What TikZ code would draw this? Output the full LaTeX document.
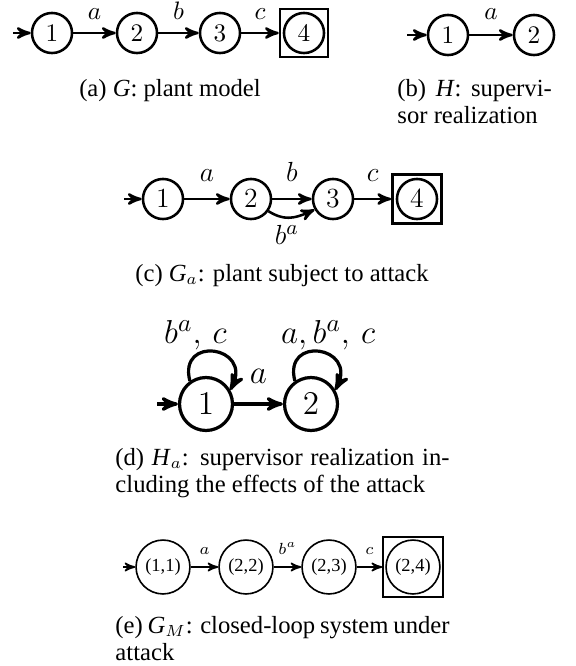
\documentclass[tikz,border=0pt]{standalone}
\usepackage{fontspec}
\setmainfont{Liberation Serif}
\usetikzlibrary{arrows,positioning}
\tikzset{
    st/.style={circle, draw, inner sep=0pt, minimum size=17.4pt, line width=1.1pt},
    acc/.style={rectangle, draw, inner sep=0pt, minimum size=20.8pt, line width=1.1pt},
    tr/.style={->, >=stealth', line width=1.1pt},
    lbl/.style={inner sep=1pt},
    captext/.style={inner sep=0pt, font=\fontsize{10.7}{12}\selectfont}
}

\begin{document}
\begin{tikzpicture}[x=0.434pt,y=-0.434pt]
\useasboundingbox (0,0) rectangle (576,666);
% (a) plant
\begin{scope}[font=\fontsize{11}{13}\selectfont]
\coordinate (a0) at (13,33);
\node[st] (a1) at ( 52,33) {$1$};
\node[st] (a2) at (137,33) {$2$};
\node[st] (a3) at (220,33) {$3$};
\node[st] (a4) at (304,33) {$4$};
\node[acc] (a4m) at (a4) {};
\draw[tr] (a0) -- (a1);
\draw[tr] (a1) -- node[lbl,above=4.5pt] (la) {$a$} (a2);
\draw[tr] (a2) -- node[lbl,above=4.5pt] (lb) {$b$} (a3);
\draw[tr] (a3) -- node[lbl,above=4.5pt] (lc) {$c$} (a4m);
\end{scope}
\node[captext,anchor=base] (capa) at (170,96) {(a) \textit{G}: plant model};
% (b) supervisor
\begin{scope}[font=\fontsize{11}{13}\selectfont]
\coordinate (b0) at (407,35);
\node[st] (b1) at (448,35) {$1$};
\node[st] (b2) at (534,35) {$2$};
\draw[tr] (b0) -- (b1);
\draw[tr] (b1) -- node[lbl,above=5pt] (lba) {$a$} (b2);
\end{scope}
\node[captext,anchor=base west,text width=67pt,align=justify] (capb) at (397,96)
    {(b) \textit{H}: supervi-\linebreak sor realization};
% (c) plant under attack
\begin{scope}[font=\fontsize{12.5}{15}\selectfont]
\coordinate (c0) at (124,199);
\node[st] (c1) at (163,199) {$1$};
\node[st] (c2) at (251,199) {$2$};
\node[st] (c3) at (333,199) {$3$};
\node[st] (c4) at (417,199) {$4$};
\node[acc,minimum size=21.3pt] (c4m) at (c4) {};
\draw[tr] (c0) -- (c1);
\draw[tr] (c1) -- node[lbl,above=6pt] (lca) {$a$} (c2);
\draw[tr] (c2) -- node[lbl,above=6pt] (lcb) {$b$} (c3);
\draw[tr] (c2.-35) .. controls +(15,9) and +(-22,10) .. (c3.-150)
    node[lbl,pos=0.45,below=2pt] (lcba) {$b^a$};
\draw[tr] (c3) -- node[lbl,above=6pt] (lcc) {$c$} (c4m);
\end{scope}
\node[captext,anchor=base] (capc) at (282,281) {(c) \textit{G}$_a$: plant subject to attack};
% (d) supervisor under attack
\begin{scope}[font=\fontsize{15}{18}\selectfont]
\tikzset{st/.append style={minimum size=23pt, line width=1.4pt},
         tr/.append style={line width=1.4pt}}
\coordinate (d0) at (157,404);
\node[st] (d1) at (206,404) {$1$};
\node[st] (d2) at (311,404) {$2$};
\draw[tr] (d0) -- (d1);
\draw[tr] (d1) -- node[lbl,above=7pt] (lda) {$a$} (d2);
\draw[tr] (d1.125) .. controls +(-12,-46) and +(22,-44) .. (d1.30)
    node[lbl,pos=0.5,above=0pt,inner sep=0pt,xshift=-8pt] (ld1) {$b^a,\,c$};
\draw[tr] (d2.125) .. controls +(-12,-46) and +(22,-44) .. (d2.30)
    node[lbl,pos=0.5,above=0pt,inner sep=0pt,xshift=4pt] (ld2) {$a,b^a,\,c$};
\end{scope}
\node[captext,anchor=base west,text width=145pt,align=justify] (capd) at (115,465)
    {(d) \textit{H}$_a$: supervisor realization in-\linebreak cluding the effects of the attack};
% (e) closed loop
\begin{scope}[font=\fontsize{8}{10}\selectfont]
\tikzset{st/.append style={minimum size=23.4pt, line width=0.7pt},
         acc/.append style={minimum size=26pt, line width=0.8pt},
         tr/.append style={line width=0.7pt}}
\coordinate (e0) at (123,567);
\node[st] (e1) at (163,567) {(1,1)};
\node[st] (e2) at (246,567) {(2,2)};
\node[st] (e3) at (329,567) {(2,3)};
\node[st] (e4) at (413,567) {(2,4)};
\node[acc] (e4m) at (e4) {};
\draw[tr] (e0) -- (e1);
\draw[tr] (e1) -- node[lbl,above=4pt,font=\fontsize{7}{8}\selectfont] (lea) {$a$} (e2);
\draw[tr] (e2) -- node[lbl,above=4pt,font=\fontsize{7}{8}\selectfont] (leb) {$b^a$} (e3);
\draw[tr] (e3) -- node[lbl,above=4pt,font=\fontsize{7}{8}\selectfont] (lec) {$c$} (e4m);
\end{scope}
\node[captext,anchor=base west,text width=145pt,align=justify] (cape) at (115,633)
    {(e) \textit{G}$_M$: closed-loop system under\linebreak attack};
\end{tikzpicture}
\end{document}
